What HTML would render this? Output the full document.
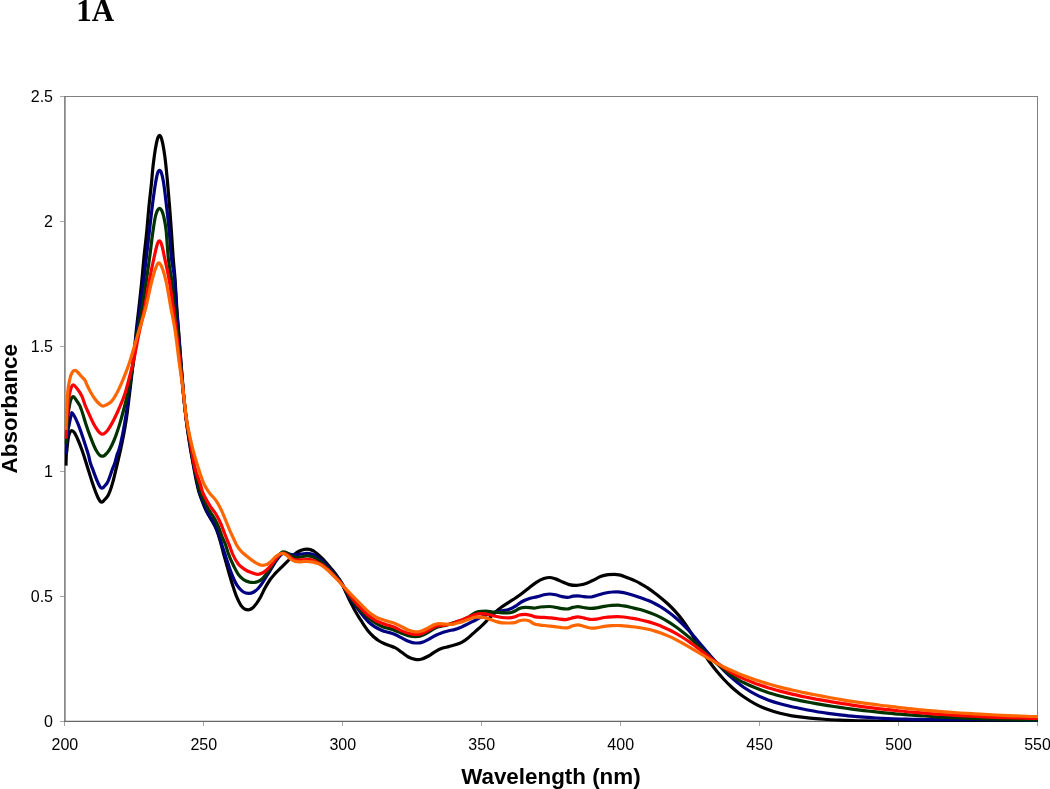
<!DOCTYPE html>
<html lang="en"><head><meta charset="utf-8"><title>1A</title>
<style>
html,body{margin:0;padding:0;background:#fff;}
body{width:1050px;height:789px;overflow:hidden;position:relative;font-family:"Liberation Sans",sans-serif;}
svg{position:absolute;left:0;top:0;display:block;}
.tk{font-family:"Liberation Sans",sans-serif;font-size:16px;fill:#000;}
.ax{font-family:"Liberation Sans",sans-serif;font-size:22.4px;font-weight:bold;fill:#000;}
.ttl{font-family:"Liberation Serif",serif;font-size:31px;font-weight:bold;fill:#000;}
.c{fill:none;stroke-width:3.2;stroke-linejoin:round;stroke-linecap:butt;}
</style></head><body>
<svg width="1050" height="789" viewBox="0 0 1050 789">
<rect width="1050" height="789" fill="#fff"/>
<text class="ttl" x="76.2" y="20.6">1A</text>
<g fill="none">
<path stroke="#a6a6a6" stroke-width="1" d="M60,721.5H64.9M60,596.5H64.9M60,471.5H64.9M60,346.5H64.9M60,221.5H64.9M60,96.5H64.9M64.5,721.4V726M203.5,721.4V726M342.5,721.4V726M481.5,721.4V726M620.5,721.4V726M759.5,721.4V726M898.5,721.4V726M1037.5,721.4V726"/>
<path stroke="#808080" stroke-width="1" d="M64.9,96.5H1038M1037.5,96V722"/>
<path stroke="#747474" stroke-width="1.5" d="M64.9,96V722"/>
<path stroke="#666666" stroke-width="1.3" d="M64,721.4H1038"/>
</g>
<clipPath id="pc"><rect x="64.6" y="90" width="973.4" height="632"/></clipPath>
<g class="c" clip-path="url(#pc)">
<path stroke="#000000" d="M66.0,465.6C66.05,463.1 66.10,459.6 66.2,458.0C66.37,451.0 66.58,453.2 66.8,451.0C67.23,446.6 67.67,442.0 68.1,439.0C68.63,435.3 69.17,434.1 69.7,432.7C70.33,431.0 70.97,430.6 71.6,430.6C72.57,430.6 73.53,431.4 74.5,432.7C75.53,434.1 76.57,436.7 77.6,439.0C78.87,441.8 80.13,445.0 81.4,448.5C82.47,451.4 83.53,454.7 84.6,458.0C85.67,461.3 86.73,464.8 87.8,468.2C89.23,472.8 90.67,477.6 92.1,481.9C93.72,486.7 95.33,491.7 97.0,495.3C97.73,497.1 98.52,498.7 99.3,500.0C99.67,500.6 100.03,501.2 100.4,501.6C100.82,502.0 101.23,502.2 101.7,502.2C102.10,502.2 102.55,501.9 103.0,501.5C103.33,501.2 103.67,500.7 104.0,500.3C105.40,498.6 106.80,498.1 108.2,495.3C109.77,492.2 111.33,487.5 112.9,481.9C114.00,478.0 115.10,473.0 116.2,468.4C117.27,464.0 118.33,459.7 119.4,455.0C120.27,451.2 121.13,447.3 122.0,443.0C122.83,438.9 123.67,434.7 124.5,430.0C125.17,426.2 125.83,422.5 126.5,418.0C127.53,411.0 128.57,401.8 129.6,393.3C130.80,383.4 132.00,373.9 133.2,362.4C134.17,353.2 135.13,341.6 136.1,332.4C137.07,323.1 138.03,315.6 139.0,306.9C139.93,298.5 140.87,290.5 141.8,281.0C142.53,273.5 143.27,264.4 144.0,256.9C144.93,247.4 145.87,240.8 146.8,231.0C147.50,223.6 148.20,214.3 148.9,206.9C149.82,197.2 150.73,190.9 151.7,181.0C151.97,177.6 152.28,173.5 152.6,170.3C153.13,164.9 153.67,160.9 154.2,156.9C154.93,151.4 155.67,146.9 156.4,143.4C156.93,140.9 157.47,138.7 158.0,137.4C158.52,136.1 159.04,135.4 159.6,135.4C160.07,135.4 160.59,136.1 161.1,137.4C161.63,138.7 162.17,140.9 162.7,143.4C163.43,146.9 164.17,151.2 164.9,156.9C165.40,160.8 165.90,165.3 166.4,170.3C166.73,173.6 167.07,177.3 167.4,181.0C168.13,189.1 168.87,197.6 169.6,206.9C170.20,214.5 170.80,222.4 171.4,231.0C171.97,239.1 172.53,249.2 173.1,256.9C173.80,266.4 174.50,270.6 175.2,281.0C175.70,288.4 176.20,299.2 176.7,306.9C177.37,317.1 178.03,323.8 178.7,332.4C179.47,342.3 180.23,352.7 181.0,362.4C181.83,373.0 182.67,384.1 183.5,393.3C184.30,402.2 185.10,410.0 185.9,417.0C186.93,426.1 187.97,433.0 189.0,440.0C190.57,450.6 192.13,458.4 193.7,466.9C194.87,473.2 196.03,479.8 197.2,485.0C197.80,487.7 198.40,490.3 199.0,492.4C199.67,494.7 200.33,496.1 201.0,497.9C202.73,502.5 204.47,507.2 206.2,510.9C208.20,515.2 210.20,517.5 212.2,521.2C213.67,523.9 215.13,526.0 216.6,529.8C217.73,532.7 218.87,536.3 220.0,540.2C221.13,544.1 222.27,548.8 223.4,553.0C224.90,558.5 226.40,563.9 227.9,569.1C229.33,574.1 230.77,579.2 232.2,583.8C233.67,588.5 235.13,593.1 236.6,596.7C238.03,600.2 239.47,603.2 240.9,605.3C242.33,607.4 243.77,608.5 245.2,609.2C246.20,609.7 247.20,609.8 248.2,609.8C249.50,609.8 250.80,609.3 252.1,608.4C253.53,607.4 254.97,605.5 256.4,603.6C257.83,601.6 259.27,599.3 260.7,596.7C262.13,594.1 263.57,590.7 265.0,588.1C266.73,584.9 268.47,582.0 270.2,579.5C271.90,577.1 273.60,575.3 275.3,573.4C277.33,571.2 279.37,569.4 281.4,567.4C283.40,565.4 285.40,563.4 287.4,561.4C289.70,559.1 292.00,556.4 294.3,554.5C296.03,553.1 297.77,551.9 299.5,551.0C301.23,550.1 302.97,549.6 304.7,549.3C305.60,549.2 306.50,549.1 307.4,549.1C309.47,549.1 311.53,549.8 313.6,551.0C315.07,551.9 316.53,553.3 318.0,554.5C319.23,555.5 320.47,556.6 321.7,557.8C323.93,560.0 326.17,562.6 328.4,565.2C330.67,567.8 332.93,570.4 335.2,573.5C337.43,576.5 339.67,579.1 341.9,583.5C342.97,585.6 344.03,588.2 345.1,590.5C346.20,592.9 347.30,595.5 348.4,597.8C349.53,600.2 350.67,602.3 351.8,604.5C352.93,606.7 354.07,609.0 355.2,611.0C356.30,613.0 357.40,614.8 358.5,616.6C359.63,618.4 360.77,620.1 361.9,621.8C363.00,623.5 364.10,625.3 365.2,626.9C366.33,628.6 367.47,630.2 368.6,631.6C369.93,633.2 371.27,634.6 372.6,635.8C373.27,636.4 373.93,636.9 374.6,637.5C375.73,638.5 376.87,639.5 378.0,640.3C380.00,641.7 382.00,642.6 384.0,643.5C386.00,644.4 388.00,645.1 390.0,645.8C391.67,646.4 393.33,646.8 395.0,647.6C397.23,648.7 399.47,650.7 401.7,652.3C403.93,653.9 406.17,655.8 408.4,657.0C410.67,658.2 412.93,659.0 415.2,659.4C416.30,659.6 417.40,659.6 418.5,659.6C419.63,659.6 420.77,659.3 421.9,659.0C424.13,658.4 426.37,657.2 428.6,656.0C430.83,654.8 433.07,652.9 435.3,651.6C437.53,650.3 439.77,649.1 442.0,648.3C444.23,647.5 446.47,647.2 448.7,646.6C450.90,646.0 453.10,645.5 455.3,644.8C457.43,644.1 459.57,643.4 461.7,642.3C463.93,641.1 466.17,639.5 468.4,637.7C470.67,635.9 472.93,633.6 475.2,631.6C477.43,629.6 479.67,627.7 481.9,625.6C484.13,623.5 486.37,621.1 488.6,618.9C490.83,616.7 493.07,614.2 495.3,612.2C497.53,610.2 499.77,608.4 502.0,606.8C504.23,605.2 506.47,603.9 508.7,602.4C510.97,600.9 513.23,599.5 515.5,598.0C517.73,596.5 519.97,595.0 522.2,593.3C524.63,591.5 527.07,589.4 529.5,587.5C531.90,585.6 534.30,583.6 536.7,582.1C539.10,580.6 541.50,579.3 543.9,578.5C545.83,577.9 547.77,577.5 549.7,577.5C551.63,577.5 553.57,578.3 555.5,578.9C557.67,579.6 559.83,580.8 562.0,581.8C564.40,582.8 566.80,584.0 569.2,584.6C571.60,585.2 574.00,585.4 576.4,585.4C578.80,585.4 581.20,584.9 583.6,584.3C586.63,583.5 589.67,581.9 592.7,580.5C595.30,579.3 597.90,577.6 600.5,576.6C603.07,575.6 605.63,575.0 608.2,574.6C610.27,574.3 612.33,574.3 614.4,574.3C616.43,574.3 618.47,574.7 620.5,575.1C622.83,575.7 625.17,576.8 627.5,577.7C630.07,578.7 632.63,579.6 635.2,580.9C636.80,581.6 638.40,582.4 640.0,583.3C642.33,584.6 644.67,586.0 647.0,587.5C649.33,589.1 651.67,590.7 654.0,592.5C656.33,594.2 658.67,596.0 661.0,597.9C663.33,599.8 665.67,601.8 668.0,604.0C670.33,606.2 672.67,608.5 675.0,611.1C677.33,613.7 679.67,616.4 682.0,619.5C684.33,622.6 686.67,626.1 689.0,629.7C691.33,633.3 693.67,637.3 696.0,641.1C698.33,644.9 700.67,648.8 703.0,652.4C705.33,655.9 707.67,659.3 710.0,662.5C712.33,665.8 714.67,668.8 717.0,671.6C719.33,674.4 721.67,677.1 724.0,679.5C726.33,682.0 728.67,684.3 731.0,686.5C733.33,688.7 735.67,690.7 738.0,692.5C740.00,694.2 742.00,695.6 744.0,697.0C748.00,699.8 752.00,702.2 756.0,704.3C760.00,706.4 764.00,708.1 768.0,709.6C772.00,711.1 776.00,712.3 780.0,713.3C784.00,714.3 788.00,715.1 792.0,715.8C796.00,716.5 800.00,717.0 804.0,717.4C808.00,717.9 812.00,718.3 816.0,718.6C820.00,719.0 824.00,719.2 828.0,719.5C832.00,719.8 836.00,720.0 840.0,720.2C844.00,720.4 848.00,720.5 852.0,720.6C856.00,720.8 860.00,720.9 864.0,720.9C868.00,721.0 872.00,721.0 876.0,721.0C880.00,721.0 884.00,721.0 888.0,721.0C892.00,721.0 896.00,721.0 900.0,721.0C904.00,721.0 908.00,721.0 912.0,721.0C916.00,721.0 920.00,721.0 924.0,721.0C928.00,721.0 932.00,721.0 936.0,721.0C940.00,721.0 944.00,721.0 948.0,721.0C952.00,721.0 956.00,721.0 960.0,721.0C964.00,721.0 968.00,721.0 972.0,721.0C976.00,721.0 980.00,721.0 984.0,721.0C988.00,721.0 992.00,721.0 996.0,721.0C1000.00,721.0 1004.00,721.0 1008.0,721.0C1012.00,721.0 1016.00,721.0 1020.0,721.0C1024.00,721.0 1028.00,721.0 1032.0,721.0C1034.50,721.0 1037.00,721.1 1039.5,721.1"/>
<path stroke="#000080" d="M66.0,454.2C66.13,451.1 66.27,447.6 66.4,445.0C66.80,437.1 67.20,436.3 67.6,433.0C68.20,428.1 68.80,426.5 69.4,423.4C69.85,421.1 70.30,418.7 70.8,416.7C71.09,415.2 71.42,412.5 71.8,412.5C72.51,412.5 73.25,414.3 74.0,415.5C75.27,417.5 76.53,420.4 77.8,423.4C79.43,427.3 81.07,432.1 82.7,436.9C84.13,441.1 85.57,445.7 87.0,450.3C87.53,452.0 88.07,453.5 88.6,455.5C89.13,457.5 89.67,460.5 90.2,462.4C90.93,465.1 91.67,466.4 92.4,468.4C94.13,473.1 95.87,478.1 97.6,481.9C98.33,483.5 99.07,485.2 99.8,486.3C100.13,486.8 100.47,487.3 100.8,487.6C101.20,488.0 101.60,488.1 102.0,488.1C102.40,488.1 102.80,487.9 103.2,487.6C103.60,487.3 104.00,486.8 104.4,486.3C105.50,485.0 106.60,484.0 107.7,481.9C109.37,478.8 111.03,472.8 112.7,468.4C113.47,466.4 114.23,464.8 115.0,462.4C115.67,460.3 116.33,457.1 117.0,455.0C117.60,453.1 118.20,452.2 118.8,450.3C119.90,446.9 121.00,442.2 122.1,436.9C122.93,432.9 123.77,428.2 124.6,423.4C125.33,419.2 126.07,415.2 126.8,410.0C127.50,405.1 128.20,398.8 128.9,393.3C130.27,382.6 131.63,373.1 133.0,362.4C134.23,352.7 135.47,342.2 136.7,332.4C137.80,323.7 138.90,315.1 140.0,306.9C141.20,297.9 142.40,290.6 143.6,281.0C144.53,273.5 145.47,264.9 146.4,256.9C147.40,248.3 148.40,239.6 149.4,231.0C150.33,223.0 151.27,214.3 152.2,206.9C153.40,197.4 154.60,188.1 155.8,181.5C156.37,178.4 156.93,175.3 157.5,173.5C158.19,171.3 158.87,170.4 159.6,170.4C160.24,170.4 160.92,171.4 161.6,173.5C162.20,175.3 162.80,178.1 163.4,181.5C164.47,187.6 165.53,197.6 166.6,206.9C167.47,214.4 168.33,221.5 169.2,231.0C169.90,238.7 170.60,249.7 171.3,256.9C172.47,268.9 173.63,266.4 174.8,281.0C175.37,288.1 175.93,298.9 176.5,306.9C177.17,316.3 177.83,323.8 178.5,332.4C179.27,342.3 180.03,352.8 180.8,362.4C181.67,373.2 182.53,384.2 183.4,393.3C184.27,402.4 185.13,409.9 186.0,417.0C187.10,426.0 188.20,432.9 189.3,440.0C190.87,450.1 192.43,458.8 194.0,466.9C195.27,473.5 196.53,479.5 197.8,485.0C198.40,487.6 199.00,490.3 199.6,492.4C200.27,494.7 200.93,496.1 201.6,497.9C203.33,502.5 205.07,507.2 206.8,510.9C208.80,515.2 210.80,517.5 212.8,521.2C214.27,523.9 215.73,526.0 217.2,529.8C218.33,532.7 219.47,536.2 220.6,540.2C221.03,541.7 221.47,543.6 221.9,545.0C222.33,546.4 222.77,547.5 223.2,548.8C224.20,551.8 225.20,554.9 226.2,557.9C227.63,562.2 229.07,567.0 230.5,570.9C231.93,574.8 233.37,578.3 234.8,581.2C236.23,584.1 237.67,586.3 239.1,588.1C240.53,589.9 241.97,591.1 243.4,592.0C245.13,593.1 246.87,593.4 248.6,593.4C250.33,593.4 252.07,593.0 253.8,592.0C255.23,591.2 256.67,590.0 258.1,588.5C259.53,587.0 260.97,585.0 262.4,582.9C263.83,580.8 265.27,578.3 266.7,576.0C268.13,573.7 269.57,571.4 271.0,569.1C272.43,566.8 273.87,564.4 275.3,562.2C276.47,560.4 277.63,558.5 278.8,557.1C279.93,555.7 281.07,554.5 282.2,553.8C283.47,553.0 284.73,553.0 286.0,553.0C287.33,553.0 288.67,553.9 290.0,554.2C291.73,554.6 293.47,554.9 295.2,554.9C296.80,554.9 298.40,554.4 300.0,554.2C301.57,554.0 303.13,553.7 304.7,553.6C305.60,553.5 306.50,553.4 307.4,553.4C309.47,553.4 311.53,553.8 313.6,554.8C315.07,555.5 316.53,556.6 318.0,557.6C319.23,558.5 320.47,559.4 321.7,560.4C323.93,562.3 326.17,564.7 328.4,567.0C330.67,569.4 332.93,571.8 335.2,574.6C337.43,577.3 339.67,579.7 341.9,583.6C342.93,585.4 343.97,587.5 345.0,589.5C346.13,591.7 347.27,594.0 348.4,596.0C350.67,599.9 352.93,602.1 355.2,605.2C357.43,608.2 359.67,611.5 361.9,614.3C364.13,617.1 366.37,619.9 368.6,622.0C370.83,624.1 373.07,625.7 375.3,627.1C377.53,628.5 379.77,629.5 382.0,630.4C384.23,631.3 386.47,631.7 388.7,632.4C390.80,633.1 392.90,633.6 395.0,634.5C397.23,635.4 399.47,636.8 401.7,637.9C403.93,639.0 406.17,640.4 408.4,641.2C410.67,642.1 412.93,643.0 415.2,643.0C416.30,643.0 417.40,643.0 418.5,643.0C419.63,643.0 420.77,642.7 421.9,642.4C424.13,641.8 426.37,640.5 428.6,639.4C430.83,638.2 433.07,636.6 435.3,635.5C437.53,634.4 439.77,633.5 442.0,632.7C444.23,631.9 446.47,631.4 448.7,630.8C450.87,630.3 453.03,630.0 455.2,629.4C457.37,628.8 459.53,627.8 461.7,626.9C463.93,625.9 466.17,624.7 468.4,623.6C470.67,622.5 472.93,621.3 475.2,620.2C477.43,619.1 479.67,617.9 481.9,616.9C484.13,615.9 486.37,615.0 488.6,614.3C490.83,613.6 493.07,613.1 495.3,612.5C497.53,611.9 499.77,611.3 502.0,610.8C504.23,610.3 506.47,610.4 508.7,609.6C510.97,608.8 513.23,607.6 515.5,606.2C517.73,604.9 519.97,602.8 522.2,601.5C524.63,600.1 527.07,599.2 529.5,598.4C531.90,597.6 534.30,597.5 536.7,596.9C539.10,596.3 541.50,595.3 543.9,594.8C545.83,594.4 547.77,594.0 549.7,594.0C551.63,594.0 553.57,594.4 555.5,594.8C557.67,595.2 559.83,596.2 562.0,596.6C563.90,597.0 565.80,597.3 567.7,597.3C569.40,597.3 571.10,596.5 572.8,596.2C574.50,596.0 576.20,595.8 577.9,595.8C579.80,595.8 581.70,596.4 583.6,596.6C585.07,596.8 586.53,597.0 588.0,597.0C589.07,597.0 590.13,597.0 591.2,597.0C593.00,597.0 594.80,596.0 596.6,595.5C599.17,594.8 601.73,593.8 604.3,593.2C606.87,592.6 609.43,592.2 612.0,592.0C613.83,591.8 615.67,591.8 617.5,591.8C619.53,591.8 621.57,592.2 623.6,592.6C626.20,593.1 628.80,594.0 631.4,594.8C633.97,595.6 636.53,596.3 639.1,597.2C639.40,597.3 639.70,597.4 640.0,597.5C642.33,598.3 644.67,599.1 647.0,600.1C649.33,601.0 651.67,602.0 654.0,603.2C656.33,604.4 658.67,605.6 661.0,607.0C663.33,608.5 665.67,610.0 668.0,611.7C670.33,613.4 672.67,615.2 675.0,617.2C677.33,619.1 679.67,621.3 682.0,623.5C684.33,625.8 686.67,628.2 689.0,630.7C691.33,633.2 693.67,636.0 696.0,638.7C698.33,641.4 700.67,644.3 703.0,647.1C705.33,649.9 707.67,652.7 710.0,655.4C712.33,658.1 714.67,660.7 717.0,663.3C719.33,665.8 721.67,668.2 724.0,670.5C726.33,672.8 728.67,675.1 731.0,677.1C733.33,679.2 735.67,681.2 738.0,683.0C740.00,684.6 742.00,686.1 744.0,687.5C748.00,690.2 752.00,692.6 756.0,694.6C760.00,696.7 764.00,698.4 768.0,699.9C772.00,701.4 776.00,702.6 780.0,703.7C784.00,704.9 788.00,705.8 792.0,706.8C796.00,707.7 800.00,708.5 804.0,709.3C808.00,710.1 812.00,710.8 816.0,711.5C820.00,712.2 824.00,712.8 828.0,713.4C832.00,714.0 836.00,714.5 840.0,714.9C844.00,715.4 848.00,715.8 852.0,716.2C856.00,716.6 860.00,716.9 864.0,717.2C868.00,717.5 872.00,717.8 876.0,718.0C880.00,718.2 884.00,718.4 888.0,718.6C892.00,718.8 896.00,718.9 900.0,719.0C904.00,719.1 908.00,719.2 912.0,719.3C916.00,719.4 920.00,719.4 924.0,719.5C928.00,719.5 932.00,719.5 936.0,719.5C940.00,719.5 944.00,719.5 948.0,719.5C952.00,719.5 956.00,719.5 960.0,719.5C964.00,719.5 968.00,719.5 972.0,719.5C976.00,719.5 980.00,719.5 984.0,719.5C988.00,719.5 992.00,719.6 996.0,719.6C1000.00,719.6 1004.00,719.7 1008.0,719.8C1012.00,719.8 1016.00,719.9 1020.0,720.0C1024.00,720.1 1028.00,720.3 1032.0,720.4C1034.50,720.5 1037.00,720.7 1039.5,720.8"/>
<path stroke="#003300" d="M66.0,443.6C66.17,440.1 66.33,436.1 66.5,433.0C66.93,424.9 67.37,421.4 67.8,417.0C68.47,410.3 69.13,407.1 69.8,403.8C70.97,398.0 72.13,396.6 73.3,396.6C74.37,396.6 75.43,399.0 76.5,400.5C77.60,402.0 78.70,403.3 79.8,405.7C80.37,406.9 80.93,408.5 81.5,410.0C82.90,413.8 84.30,419.1 85.7,423.4C87.27,428.2 88.83,432.8 90.4,436.9C92.30,441.9 94.20,447.0 96.1,450.3C97.07,452.0 98.03,453.5 99.0,454.5C99.53,455.1 100.07,455.5 100.6,455.8C101.17,456.1 101.73,456.2 102.3,456.2C102.87,456.2 103.43,456.1 104.0,455.8C104.50,455.5 105.00,455.0 105.5,454.5C106.67,453.4 107.83,452.1 109.0,450.3C111.13,447.1 113.27,442.5 115.4,436.9C116.90,433.0 118.40,428.4 119.9,423.4C121.13,419.3 122.37,414.7 123.6,410.0C124.97,404.8 126.33,399.6 127.7,393.3C129.60,384.5 131.50,374.4 133.4,362.4C134.83,353.4 136.27,341.5 137.7,332.4C139.20,322.9 140.70,315.9 142.2,306.9C143.57,298.7 144.93,290.2 146.3,281.0C147.43,273.4 148.57,265.4 149.7,256.9C150.80,248.7 151.90,238.5 153.0,231.0C153.83,225.3 154.67,219.5 155.5,216.0C156.17,213.2 156.83,211.6 157.5,210.3C158.19,209.0 158.87,208.4 159.6,208.4C160.24,208.4 160.92,209.0 161.6,210.3C162.27,211.6 162.93,213.2 163.6,216.0C164.45,219.6 165.30,222.8 166.2,231.0C166.83,237.6 167.52,249.8 168.2,256.9C169.43,269.8 170.67,271.3 171.9,281.0C172.87,288.6 173.83,298.0 174.8,306.9C175.70,315.2 176.60,323.7 177.5,332.4C178.50,342.1 179.50,352.1 180.5,362.4C181.47,372.4 182.43,383.8 183.4,393.3C184.27,401.8 185.13,410.0 186.0,417.0C187.17,426.4 188.33,432.8 189.5,440.0C191.10,449.9 192.70,459.0 194.3,466.9C195.67,473.7 197.03,479.6 198.4,485.0C199.07,487.6 199.73,490.4 200.4,492.4C201.20,494.8 202.00,496.1 202.8,497.9C204.50,501.7 206.20,505.2 207.9,508.3C209.93,512.0 211.97,514.1 214.0,517.8C215.43,520.4 216.87,522.9 218.3,526.4C219.43,529.2 220.57,533.0 221.7,535.9C223.03,539.3 224.37,541.5 225.7,545.2C226.63,547.8 227.57,551.3 228.5,554.0C230.33,559.2 232.17,562.9 234.0,566.6C235.43,569.5 236.87,572.2 238.3,574.3C240.00,576.7 241.70,578.2 243.4,579.5C245.43,581.0 247.47,581.6 249.5,582.1C250.93,582.4 252.37,582.5 253.8,582.5C255.23,582.5 256.67,582.2 258.1,581.6C259.53,581.0 260.97,580.0 262.4,578.6C263.83,577.2 265.27,575.3 266.7,573.4C268.13,571.5 269.57,569.5 271.0,567.4C272.43,565.2 273.87,562.7 275.3,560.5C276.47,558.7 277.63,556.7 278.8,555.3C280.23,553.6 281.67,551.9 283.1,551.9C284.53,551.9 285.97,552.5 287.4,553.2C289.13,554.0 290.87,555.9 292.6,556.6C294.33,557.3 296.07,557.5 297.8,557.5C300.10,557.5 302.40,556.6 304.7,556.2C305.60,556.1 306.50,555.8 307.4,555.8C309.47,555.8 311.53,556.3 313.6,557.2C315.07,557.8 316.53,558.8 318.0,559.8C319.23,560.6 320.47,561.4 321.7,562.4C323.93,564.1 326.17,566.2 328.4,568.4C330.67,570.6 332.93,573.0 335.2,575.6C337.43,578.2 339.67,580.4 341.9,583.9C342.93,585.5 343.97,587.5 345.0,589.3C346.13,591.2 347.27,593.2 348.4,595.0C350.67,598.5 352.93,601.1 355.2,604.0C357.43,606.8 359.67,609.7 361.9,612.0C364.13,614.3 366.37,616.2 368.6,618.0C370.83,619.8 373.07,621.6 375.3,623.0C377.53,624.4 379.77,625.5 382.0,626.4C384.23,627.3 386.47,627.7 388.7,628.4C390.80,629.0 392.90,629.6 395.0,630.4C397.23,631.2 399.47,632.3 401.7,633.2C403.93,634.1 406.17,635.0 408.4,635.6C410.67,636.2 412.93,636.6 415.2,636.6C416.30,636.6 417.40,636.6 418.5,636.5C419.63,636.4 420.77,636.0 421.9,635.6C424.13,634.8 426.37,633.5 428.6,632.2C430.83,630.9 433.07,629.0 435.3,628.0C436.43,627.5 437.57,627.1 438.7,626.8C440.93,626.1 443.17,626.0 445.4,625.4C448.60,624.6 451.80,623.2 455.0,622.2C457.23,621.5 459.47,621.0 461.7,620.2C463.93,619.4 466.17,618.4 468.4,617.2C470.67,616.0 472.93,613.8 475.2,612.8C476.30,612.3 477.40,611.8 478.5,611.6C480.73,611.2 482.97,611.2 485.2,611.2C487.43,611.2 489.67,611.5 491.9,611.8C494.17,612.0 496.43,612.3 498.7,612.5C500.93,612.7 503.17,613.0 505.4,613.0C507.63,613.0 509.87,612.9 512.1,612.2C513.07,611.9 514.03,611.5 515.0,611.0C516.43,610.3 517.87,609.1 519.3,608.5C521.47,607.6 523.63,607.3 525.8,607.3C528.47,607.3 531.13,608.1 533.8,608.1C535.97,608.1 538.13,607.3 540.3,607.0C543.43,606.6 546.57,606.5 549.7,606.5C551.63,606.5 553.57,607.0 555.5,607.3C557.67,607.7 559.83,608.4 562.0,608.7C563.67,608.9 565.33,609.0 567.0,609.0C568.93,609.0 570.87,607.8 572.8,607.4C574.50,607.1 576.20,606.7 577.9,606.7C579.80,606.7 581.70,607.2 583.6,607.5C585.07,607.7 586.53,608.0 588.0,608.2C589.07,608.3 590.13,608.4 591.2,608.4C593.00,608.4 594.80,608.2 596.6,607.9C599.17,607.5 601.73,606.7 604.3,606.3C606.87,605.9 609.43,605.6 612.0,605.4C613.83,605.3 615.67,605.2 617.5,605.2C619.53,605.2 621.57,605.6 623.6,605.9C626.20,606.3 628.80,606.9 631.4,607.5C633.97,608.1 636.53,608.6 639.1,609.3C639.40,609.4 639.70,609.5 640.0,609.5C642.33,610.2 644.67,610.9 647.0,611.7C649.33,612.5 651.67,613.4 654.0,614.4C656.33,615.4 658.67,616.5 661.0,617.7C663.33,618.9 665.67,620.2 668.0,621.7C670.33,623.1 672.67,624.6 675.0,626.2C677.33,627.8 679.67,629.6 682.0,631.4C684.33,633.2 686.67,635.1 689.0,637.1C691.33,639.1 693.67,641.3 696.0,643.4C698.33,645.6 700.67,647.9 703.0,650.2C705.33,652.4 707.67,654.8 710.0,657.0C712.33,659.3 714.67,661.5 717.0,663.6C719.33,665.8 721.67,667.8 724.0,669.7C726.33,671.6 728.67,673.4 731.0,675.1C733.33,676.7 735.67,678.2 738.0,679.6C740.00,680.7 742.00,681.8 744.0,682.8C748.00,684.8 752.00,686.5 756.0,688.1C760.00,689.7 764.00,691.1 768.0,692.5C772.00,693.8 776.00,694.9 780.0,696.0C784.00,697.1 788.00,698.0 792.0,698.9C796.00,699.8 800.00,700.6 804.0,701.4C808.00,702.1 812.00,702.9 816.0,703.6C820.00,704.3 824.00,704.9 828.0,705.6C832.00,706.2 836.00,706.8 840.0,707.4C844.00,708.0 848.00,708.5 852.0,709.1C856.00,709.6 860.00,710.1 864.0,710.6C868.00,711.0 872.00,711.5 876.0,711.9C880.00,712.4 884.00,712.8 888.0,713.1C892.00,713.5 896.00,713.9 900.0,714.2C904.00,714.6 908.00,714.9 912.0,715.2C916.00,715.5 920.00,715.8 924.0,716.0C928.00,716.3 932.00,716.6 936.0,716.8C940.00,717.0 944.00,717.2 948.0,717.4C952.00,717.6 956.00,717.8 960.0,718.0C964.00,718.2 968.00,718.3 972.0,718.5C976.00,718.6 980.00,718.8 984.0,718.9C988.00,719.0 992.00,719.1 996.0,719.2C1000.00,719.4 1004.00,719.5 1008.0,719.5C1012.00,719.6 1016.00,719.7 1020.0,719.8C1024.00,719.9 1028.00,720.0 1032.0,720.0C1034.50,720.1 1037.00,720.1 1039.5,720.1"/>
<path stroke="#ff0000" d="M66.0,438.6C66.17,434.1 66.33,429.0 66.5,425.0C66.97,413.9 67.43,410.3 67.9,405.0C68.77,395.2 69.63,393.4 70.5,390.0C71.43,386.4 72.37,384.8 73.3,384.8C74.53,384.8 75.77,387.0 77.0,388.5C78.70,390.6 80.40,392.7 82.1,396.6C83.37,399.5 84.63,404.3 85.9,407.2C86.33,408.2 86.77,409.1 87.2,410.0C89.27,414.5 91.33,419.6 93.4,423.4C94.80,426.0 96.20,428.3 97.6,430.2C98.40,431.3 99.20,432.3 100.0,433.0C100.77,433.6 101.53,434.2 102.3,434.2C103.20,434.2 104.10,433.7 105.0,433.0C105.90,432.3 106.80,431.3 107.7,430.2C109.10,428.4 110.50,425.9 111.9,423.4C114.07,419.5 116.23,414.9 118.4,410.0C120.63,404.9 122.87,400.5 125.1,393.3C126.57,388.6 128.03,382.6 129.5,377.0C130.73,372.3 131.97,367.8 133.2,362.4C135.20,353.7 137.20,341.9 139.2,332.4C141.10,323.4 143.00,317.0 144.9,306.9C146.32,299.3 147.73,289.3 149.2,281.5C150.83,272.3 152.52,264.4 154.2,256.9C154.97,253.5 155.73,249.8 156.5,247.0C157.00,245.2 157.50,243.3 158.0,242.3C158.47,241.3 158.93,240.8 159.4,240.8C159.87,240.8 160.33,241.3 160.8,242.3C161.30,243.3 161.80,245.1 162.3,247.0C163.00,249.7 163.70,253.6 164.4,256.9C166.08,264.9 167.77,271.3 169.4,281.5C170.67,288.9 171.88,298.1 173.1,306.9C174.23,315.1 175.37,323.3 176.5,332.4C177.67,341.8 178.83,352.1 180.0,362.4C181.13,372.4 182.27,383.0 183.4,393.3C184.27,401.2 185.13,410.2 186.0,417.0C187.33,427.4 188.67,432.3 190.0,440.0C191.57,449.0 193.13,459.8 194.7,466.9C196.67,475.8 198.63,478.3 200.6,485.0C201.30,487.4 202.00,490.5 202.7,492.4C203.30,494.1 203.90,495.0 204.5,496.2C206.50,500.2 208.50,503.5 210.5,506.6C212.53,509.8 214.57,511.6 216.6,515.2C218.03,517.7 219.47,520.5 220.9,523.8C222.33,527.1 223.77,531.4 225.2,535.0C226.57,538.5 227.93,541.7 229.3,545.2C230.40,548.0 231.50,551.4 232.6,554.0C234.50,558.4 236.40,561.5 238.3,564.0C240.30,566.6 242.30,567.7 244.3,569.1C246.60,570.7 248.90,571.7 251.2,572.6C253.50,573.5 255.80,574.3 258.1,574.3C259.53,574.3 260.97,573.7 262.4,573.0C263.83,572.3 265.27,571.3 266.7,570.0C268.13,568.7 269.57,567.0 271.0,565.3C272.43,563.6 273.87,561.5 275.3,559.7C276.47,558.2 277.63,556.4 278.8,555.3C280.23,554.0 281.67,553.2 283.1,553.2C284.53,553.2 285.97,554.1 287.4,554.9C289.13,555.9 290.87,557.9 292.6,558.8C294.33,559.7 296.07,560.1 297.8,560.1C300.10,560.1 302.40,559.9 304.7,559.7C305.60,559.6 306.50,559.4 307.4,559.4C309.47,559.4 311.53,559.8 313.6,560.5C315.07,561.0 316.53,561.8 318.0,562.6C319.23,563.2 320.47,563.9 321.7,564.7C323.93,566.1 326.17,568.0 328.4,570.0C330.67,572.0 332.93,574.4 335.2,576.8C337.43,579.2 339.67,581.4 341.9,584.2C344.07,586.9 346.23,590.3 348.4,593.2C350.67,596.2 352.93,599.3 355.2,602.0C357.43,604.7 359.67,607.0 361.9,609.2C364.13,611.5 366.37,613.8 368.6,615.6C370.83,617.4 373.07,619.0 375.3,620.3C377.53,621.6 379.77,622.4 382.0,623.3C384.23,624.1 386.47,624.7 388.7,625.4C390.80,626.1 392.90,626.6 395.0,627.5C397.23,628.4 399.47,629.9 401.7,630.9C403.93,631.9 406.17,632.6 408.4,633.2C410.67,633.8 412.93,634.4 415.2,634.4C416.30,634.4 417.40,634.4 418.5,634.4C419.63,634.4 420.77,634.0 421.9,633.6C424.13,632.9 426.37,631.4 428.6,630.2C430.83,629.0 433.07,627.3 435.3,626.5C436.43,626.1 437.57,625.9 438.7,625.7C440.93,625.3 443.17,625.5 445.4,625.1C447.63,624.8 449.87,624.4 452.1,623.6C453.23,623.2 454.37,622.6 455.5,622.2C457.57,621.4 459.63,620.9 461.7,620.1C463.93,619.2 466.17,618.1 468.4,617.2C470.67,616.3 472.93,615.1 475.2,614.5C477.43,613.9 479.67,613.6 481.9,613.6C484.13,613.6 486.37,614.1 488.6,614.5C490.83,614.9 493.07,615.7 495.3,616.2C497.53,616.7 499.77,617.2 502.0,617.5C504.23,617.8 506.47,617.9 508.7,617.9C510.80,617.9 512.90,617.5 515.0,616.8C516.43,616.3 517.87,615.4 519.3,615.0C521.23,614.4 523.17,614.3 525.1,614.3C527.03,614.3 528.97,614.9 530.9,615.4C532.33,615.8 533.77,616.7 535.2,616.9C538.10,617.4 541.00,617.2 543.9,617.4C546.30,617.6 548.70,617.6 551.1,617.9C553.53,618.2 555.97,618.7 558.4,619.0C560.80,619.3 563.20,619.7 565.6,619.7C567.53,619.7 569.47,618.7 571.4,618.2C573.57,617.7 575.73,616.8 577.9,616.8C579.80,616.8 581.70,617.5 583.6,617.9C585.07,618.2 586.53,618.7 588.0,619.0C589.07,619.2 590.13,619.5 591.2,619.5C593.00,619.5 594.80,619.3 596.6,619.1C599.17,618.8 601.73,617.9 604.3,617.5C606.87,617.1 609.43,616.9 612.0,616.8C613.83,616.7 615.67,616.6 617.5,616.6C619.53,616.6 621.57,616.8 623.6,617.0C626.20,617.3 628.80,617.7 631.4,618.2C633.97,618.6 636.53,619.0 639.1,619.5C639.40,619.6 639.70,619.6 640.0,619.7C642.33,620.2 644.67,620.7 647.0,621.4C649.33,622.0 651.67,622.7 654.0,623.5C656.33,624.3 658.67,625.2 661.0,626.1C663.33,627.1 665.67,628.1 668.0,629.3C670.33,630.4 672.67,631.6 675.0,632.9C677.33,634.2 679.67,635.6 682.0,637.0C684.33,638.5 686.67,640.0 689.0,641.6C691.33,643.2 693.67,645.0 696.0,646.7C698.33,648.4 700.67,650.3 703.0,652.1C705.33,653.9 707.67,655.7 710.0,657.5C712.33,659.3 714.67,661.2 717.0,662.9C719.33,664.6 721.67,666.3 724.0,667.8C726.33,669.4 728.67,670.9 731.0,672.3C733.33,673.6 735.67,674.9 738.0,676.1C740.00,677.1 742.00,678.0 744.0,678.9C748.00,680.7 752.00,682.2 756.0,683.7C760.00,685.1 764.00,686.4 768.0,687.7C772.00,688.9 776.00,690.1 780.0,691.1C784.00,692.2 788.00,693.2 792.0,694.1C796.00,695.0 800.00,695.9 804.0,696.7C808.00,697.5 812.00,698.3 816.0,699.1C820.00,699.8 824.00,700.5 828.0,701.2C832.00,701.9 836.00,702.6 840.0,703.2C844.00,703.9 848.00,704.5 852.0,705.1C856.00,705.7 860.00,706.3 864.0,706.8C868.00,707.3 872.00,707.8 876.0,708.3C880.00,708.8 884.00,709.3 888.0,709.7C892.00,710.2 896.00,710.6 900.0,711.0C904.00,711.4 908.00,711.8 912.0,712.1C916.00,712.5 920.00,712.8 924.0,713.2C928.00,713.5 932.00,713.8 936.0,714.1C940.00,714.4 944.00,714.6 948.0,714.9C952.00,715.1 956.00,715.4 960.0,715.6C964.00,715.8 968.00,716.0 972.0,716.2C976.00,716.4 980.00,716.6 984.0,716.8C988.00,717.0 992.00,717.1 996.0,717.3C1000.00,717.4 1004.00,717.5 1008.0,717.7C1012.00,717.8 1016.00,717.9 1020.0,718.0C1024.00,718.1 1028.00,718.2 1032.0,718.3C1034.50,718.4 1037.00,718.4 1039.5,718.5"/>
<path stroke="#ff6600" d="M66.0,430.0C66.30,421.9 66.60,412.5 66.9,405.7C67.90,382.9 68.90,384.6 69.9,379.0C70.77,374.2 71.63,373.5 72.5,372.0C73.40,370.5 74.30,370.3 75.2,370.3C76.13,370.3 77.07,371.6 78.0,372.5C79.17,373.6 80.33,375.2 81.5,376.5C82.70,377.9 83.90,378.4 85.1,380.6C85.90,382.0 86.70,384.3 87.5,386.0C88.50,388.1 89.50,390.2 90.5,392.0C92.53,395.7 94.57,398.7 96.6,401.1C97.73,402.4 98.87,403.6 100.0,404.5C101.00,405.3 102.00,406.1 103.0,406.1C104.33,406.1 105.67,405.2 107.0,404.5C108.60,403.6 110.20,402.9 111.8,401.1C113.47,399.2 115.13,396.4 116.8,393.3C118.20,390.7 119.60,387.6 121.0,384.4C122.77,380.4 124.53,376.1 126.3,371.4C127.37,368.5 128.43,365.6 129.5,362.4C129.97,361.0 130.43,359.5 130.9,358.0C133.40,350.0 135.90,340.9 138.4,332.4C140.93,323.8 143.47,317.0 146.0,306.9C147.90,299.3 149.80,288.8 151.7,281.5C152.87,277.0 154.03,272.8 155.2,269.5C155.87,267.6 156.53,265.6 157.2,264.5C157.72,263.6 158.23,262.9 158.8,262.9C159.33,262.9 159.92,263.6 160.5,264.5C161.27,265.6 162.03,267.4 162.8,269.5C163.90,272.6 165.00,276.6 166.1,281.5C167.63,288.3 169.17,298.5 170.7,306.9C172.27,315.5 173.83,321.8 175.4,332.4C176.67,341.0 177.93,352.9 179.2,362.4C180.57,372.7 181.93,380.4 183.3,391.5C184.27,399.3 185.23,409.8 186.2,417.0C187.80,428.8 189.40,434.3 191.0,441.5C193.33,452.0 195.67,459.5 198.0,466.9C200.17,473.8 202.33,480.5 204.5,485.0C206.00,488.1 207.50,490.1 209.0,492.3C211.53,496.0 214.07,497.4 216.6,501.4C218.30,504.1 220.00,507.2 221.7,510.9C223.13,514.0 224.57,517.8 226.0,521.2C227.43,524.7 228.87,528.3 230.3,531.6C231.77,534.9 233.23,537.9 234.7,541.0C235.33,542.3 235.97,543.8 236.6,545.0C238.03,547.7 239.47,549.3 240.9,551.0C242.90,553.3 244.90,554.6 246.9,556.2C248.90,557.9 250.90,559.5 252.9,560.9C254.93,562.3 256.97,563.7 259.0,564.4C260.27,564.9 261.53,565.3 262.8,565.3C264.10,565.3 265.40,565.0 266.7,564.4C268.13,563.8 269.57,562.6 271.0,561.4C272.43,560.2 273.87,558.3 275.3,557.1C276.77,555.9 278.23,554.7 279.7,554.1C280.83,553.6 281.97,553.4 283.1,553.4C284.27,553.4 285.43,554.5 286.6,555.3C288.03,556.3 289.47,558.2 290.9,559.2C292.33,560.2 293.77,561.0 295.2,561.4C296.63,561.8 298.07,561.8 299.5,561.8C301.23,561.8 302.97,561.4 304.7,561.4C305.60,561.4 306.50,561.5 307.4,561.5C309.47,561.6 311.53,561.6 313.6,562.1C315.07,562.5 316.53,563.0 318.0,563.6C319.23,564.1 320.47,564.7 321.7,565.5C323.93,566.9 326.17,568.8 328.4,570.8C330.67,572.8 332.93,575.2 335.2,577.5C337.43,579.8 339.67,582.2 341.9,584.6C344.10,586.9 346.30,589.4 348.5,591.7C350.73,594.0 352.97,596.2 355.2,598.5C357.43,600.8 359.67,603.1 361.9,605.3C364.13,607.5 366.37,610.0 368.6,611.9C370.83,613.8 373.07,615.3 375.3,616.6C377.53,617.9 379.77,618.8 382.0,619.6C384.23,620.4 386.47,620.9 388.7,621.6C390.80,622.2 392.90,622.7 395.0,623.5C397.23,624.4 399.47,625.6 401.7,626.7C403.93,627.8 406.17,629.3 408.4,630.1C410.67,631.0 412.93,631.8 415.2,631.8C416.30,631.8 417.40,631.8 418.5,631.8C419.63,631.8 420.77,631.3 421.9,630.9C424.13,630.2 426.37,628.8 428.6,627.7C430.83,626.6 433.07,625.1 435.3,624.4C436.43,624.1 437.57,623.7 438.7,623.7C440.93,623.7 443.17,624.1 445.4,624.2C447.63,624.3 449.87,624.4 452.1,624.4C453.07,624.4 454.03,623.9 455.0,623.6C457.23,623.0 459.47,622.6 461.7,621.9C463.93,621.2 466.17,620.3 468.4,619.5C470.67,618.7 472.93,617.2 475.2,617.2C477.43,617.2 479.67,617.2 481.9,617.2C484.13,617.2 486.37,618.2 488.6,618.9C490.83,619.6 493.07,620.5 495.3,621.2C497.53,621.9 499.77,622.8 502.0,622.9C504.23,623.0 506.47,623.0 508.7,623.0C510.80,623.0 512.90,623.0 515.0,622.6C516.43,622.3 517.87,621.2 519.3,620.8C521.00,620.3 522.70,620.0 524.4,620.0C526.10,620.0 527.80,620.4 529.5,621.1C530.93,621.7 532.37,623.1 533.8,623.7C535.97,624.7 538.13,624.8 540.3,625.1C542.70,625.5 545.10,625.5 547.5,625.8C549.90,626.0 552.30,626.3 554.7,626.6C557.13,626.9 559.57,627.4 562.0,627.6C563.67,627.7 565.33,627.8 567.0,627.8C568.93,627.8 570.87,626.3 572.8,625.8C574.50,625.4 576.20,624.9 577.9,624.9C579.80,624.9 581.70,625.7 583.6,626.2C585.07,626.6 586.53,627.2 588.0,627.5C589.07,627.7 590.13,628.1 591.2,628.1C593.00,628.1 594.80,628.0 596.6,627.8C599.17,627.5 601.73,626.8 604.3,626.4C606.87,626.0 609.43,625.7 612.0,625.6C613.83,625.5 615.67,625.5 617.5,625.5C619.53,625.5 621.57,625.8 623.6,625.9C626.20,626.1 628.80,626.4 631.4,626.7C633.97,626.9 636.53,627.2 639.1,627.6C639.40,627.6 639.70,627.7 640.0,627.7C642.33,628.1 644.67,628.5 647.0,629.0C649.33,629.5 651.67,630.1 654.0,630.8C656.33,631.5 658.67,632.2 661.0,633.0C663.33,633.9 665.67,634.9 668.0,635.9C670.33,636.9 672.67,638.0 675.0,639.2C677.33,640.4 679.67,641.6 682.0,642.9C684.33,644.2 686.67,645.5 689.0,646.9C691.33,648.3 693.67,649.7 696.0,651.0C698.33,652.4 700.67,653.8 703.0,655.2C705.33,656.6 707.67,658.0 710.0,659.4C712.33,660.7 714.67,662.0 717.0,663.3C719.33,664.6 721.67,665.8 724.0,667.0C726.33,668.2 728.67,669.3 731.0,670.3C733.33,671.4 735.67,672.4 738.0,673.4C740.00,674.2 742.00,675.0 744.0,675.8C748.00,677.3 752.00,678.7 756.0,680.1C760.00,681.4 764.00,682.7 768.0,683.8C772.00,685.0 776.00,686.1 780.0,687.1C784.00,688.1 788.00,689.1 792.0,690.0C796.00,690.9 800.00,691.8 804.0,692.6C808.00,693.5 812.00,694.3 816.0,695.0C820.00,695.8 824.00,696.5 828.0,697.3C832.00,698.0 836.00,698.7 840.0,699.3C844.00,700.0 848.00,700.7 852.0,701.3C856.00,701.9 860.00,702.5 864.0,703.1C868.00,703.6 872.00,704.2 876.0,704.7C880.00,705.2 884.00,705.8 888.0,706.2C892.00,706.7 896.00,707.2 900.0,707.6C904.00,708.1 908.00,708.5 912.0,708.9C916.00,709.3 920.00,709.7 924.0,710.1C928.00,710.5 932.00,710.8 936.0,711.1C940.00,711.5 944.00,711.8 948.0,712.1C952.00,712.4 956.00,712.7 960.0,713.0C964.00,713.2 968.00,713.5 972.0,713.7C976.00,714.0 980.00,714.2 984.0,714.4C988.00,714.6 992.00,714.8 996.0,715.0C1000.00,715.2 1004.00,715.4 1008.0,715.6C1012.00,715.7 1016.00,715.9 1020.0,716.0C1024.00,716.2 1028.00,716.3 1032.0,716.5C1034.50,716.5 1037.00,716.6 1039.5,716.7"/>
</g>
<g class="tk" text-anchor="end">
<text x="53" y="727.0">0</text><text x="53" y="602.1">0.5</text><text x="53" y="477.1">1</text><text x="53" y="352.1">1.5</text><text x="53" y="227.1">2</text><text x="53" y="102.2">2.5</text>
</g>
<g class="tk" text-anchor="middle">
<text x="64.9" y="749.7">200</text><text x="203.8" y="749.7">250</text><text x="342.8" y="749.7">300</text><text x="481.7" y="749.7">350</text><text x="620.7" y="749.7">400</text><text x="759.6" y="749.7">450</text><text x="898.6" y="749.7">500</text><text x="1037.5" y="749.7">550</text>
</g>
<text class="ax" x="550.9" y="783.6" text-anchor="middle">Wavelength (nm)</text>
<text class="ax" transform="translate(16.6 408.7) rotate(-90)" text-anchor="middle">Absorbance</text>
</svg>
</body></html>
